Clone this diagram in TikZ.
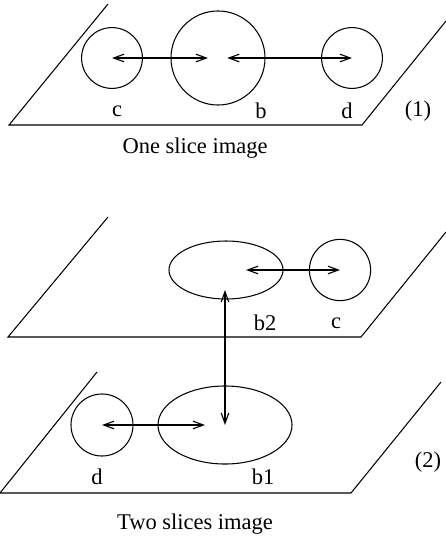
\documentclass[tikz,border=0pt]{standalone}
\usepackage{fontspec}
\setmainfont{Liberation Serif}
\usepackage{tikz}
\usetikzlibrary{shapes.geometric, arrows.meta, positioning, calc}
\tikzset{
    plane/.style={draw, line width=0.75pt},
    blob/.style={circle, draw, line width=0.75pt, inner sep=0pt, minimum size=#1},
    oval/.style={ellipse, draw, line width=0.75pt, inner sep=0pt},
    link/.style={line width=0.8pt, {Straight Barb[length=2.6mm,width=1.9mm]}-{Straight Barb[length=2.6mm,width=1.9mm]}},
    tag/.style={font=\fontsize{16}{19}\selectfont, inner sep=0pt}
}

\begin{document}
\begin{tikzpicture}[x=0.025cm, y=-0.025cm]
        \useasboundingbox (0,0) rectangle (446,539);

        % (1) one slice
        \draw[plane] (108,4) -- (9,125) -- (362,125) -- (446,21);
        \node[blob=1.52cm] (c) at (112,58) {};
        \node[blob=2.35cm] (b) at (218,58) {};
        \node[blob=1.52cm] (d) at (352,58) {};
        \draw[link, shorten >=0.25cm] (c.center) -- (b.center);
        \draw[link, shorten <=0.23cm] (b.center) -- (d.center);
        \node[tag] (lc) at (117,111) {c};
        \node[tag] (lb) at (261,111) {b};
        \node[tag] (ld) at (347,111) {d};
        \node[tag] (one) at (418,111) {(1)};
        \node[tag] (cap1) at (195,148) {One slice image};

        % (2) two slices
        \draw[plane] (108,217) -- (8,337) -- (361,337) -- (446,232);
        \draw[plane] (97,372) -- (0,493) -- (351,493) -- (441,382);
        \node[oval, minimum width=2.85cm, minimum height=1.45cm] (b2) at (226,270) {};
        \node[blob=1.53cm] (c2) at (340,270) {};
        \node[oval, minimum width=3.35cm, minimum height=1.95cm] (b1) at (225,425) {};
        \node[blob=1.55cm] (d2) at (102,425) {};
        \draw[link, shorten <=0.5cm] (b2.center) -- (c2.center);
        \draw[link, shorten >=0.5cm] (d2.center) -- (b1.center);
        \draw[link, shorten >=0.5cm] (b1.center) -- (b1.center |- b2.center);
        \node[tag] (lb2) at (265,323) {b2};
        \node[tag] (lc2) at (336,323) {c};
        \node[tag] (ld2) at (97,477) {d};
        \node[tag] (lb1) at (263,477) {b1};
        \node[tag] (two) at (428,462) {(2)};
        \node[tag] (cap2) at (195,524) {Two slices image};
    \end{tikzpicture}
\end{document}
